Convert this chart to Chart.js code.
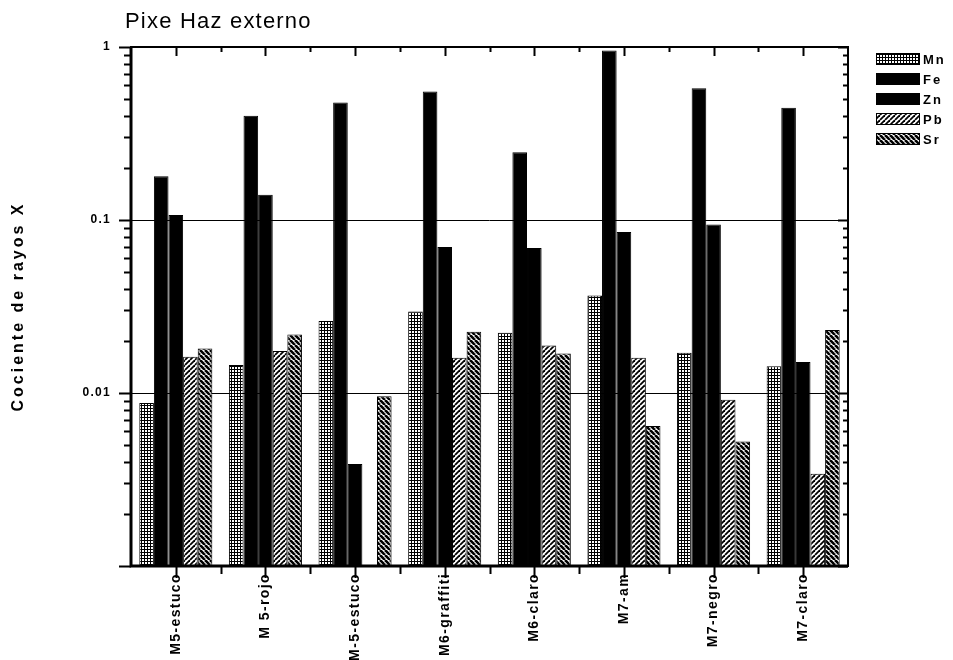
<!DOCTYPE html>
<html>
<head>
<meta charset="utf-8">
<script src="https://cdn.jsdelivr.net/npm/chart.js@4.4.1/dist/chart.umd.min.js"></script>
<style>
  html, body { margin: 0; padding: 0; background: #fff; }
  #wrap { width: 953px; height: 660px; position: relative; }
</style>
</head>
<body>
<div id="wrap"><canvas id="chart" width="953" height="660"></canvas></div>
<script>
// --- Data ---
const categories = ['M5-estuco', 'M 5-rojo', 'M-5-estuco', 'M6-graffiti', 'M6-claro', 'M7-am', 'M7-negro', 'M7-claro'];
const seriesNames = ['Mn', 'Fe', 'Zn', 'Pb', 'Sr'];
const mnValues = [0.00875, 0.0145, 0.0261, 0.0296, 0.0223, 0.0366, 0.0171, 0.0143];
const feValues = [0.179, 0.40, 0.477, 0.553, 0.246, 0.953, 0.578, 0.446];
const znValues = [0.107, 0.140, 0.00389, 0.0697, 0.0690, 0.0853, 0.0943, 0.0151];
const pbValues = [0.0162, 0.0175, null, 0.0160, 0.0188, 0.0160, 0.00914, 0.00341];
const srValues = [0.0181, 0.0218, 0.00957, 0.0226, 0.0169, 0.00644, 0.00525, 0.0231];
const yLabelTicks = [1, 0.1, 0.01];

const FONT = '"Liberation Sans", Arial, sans-serif';

// --- Fill patterns ---
function makePattern(kind) {
    const c = document.createElement('canvas');
    const s = kind === 'grid' ? 3 : 5;
    c.width = s; c.height = s;
    const g = c.getContext('2d');
    g.fillStyle = '#fff';
    g.fillRect(0, 0, s, s);
    g.fillStyle = '#000';
    g.strokeStyle = '#000';
    if (kind === 'grid') {
        g.fillRect(0, 0, s, 1);
        g.fillRect(0, 0, 1, s);
    } else {
        g.lineWidth = kind === 'fwd' ? 1.8 : 2.6;
        for (let k = -1; k <= 1; k++) {
            g.beginPath();
            if (kind === 'fwd') {
                g.moveTo(k * s, s); g.lineTo(k * s + s, 0);
            } else {
                g.moveTo(k * s, 0); g.lineTo(k * s + s, s);
            }
            g.stroke();
        }
    }
    return g.createPattern(c, 'repeat');
}

const fills = [makePattern('grid'), '#000', '#000', makePattern('fwd'), makePattern('back')];
const allValues = [mnValues, feValues, znValues, pbValues, srValues];

const datasets = seriesNames.map((name, i) => ({
    label: name,
    data: allValues[i],
    backgroundColor: fills[i],
    borderColor: '#000',
    borderWidth: 1,
    categoryPercentage: 0.815,
    barPercentage: 1.0
}));

// --- Frame, tick marks, title, legend ---
const decorPlugin = {
    id: 'decor',
    afterLayout(chart) {
        const x = chart.scales.x, y = chart.scales.y;
        const xl = x.drawLabels;
        x.drawLabels = function (area) {
            const ctx = this.ctx; ctx.save(); ctx.letterSpacing = '1.4px';
            xl.call(this, area); ctx.restore();
        };
        const yl = y.drawLabels;
        y.drawLabels = function (area) {
            const ctx = this.ctx; ctx.save(); ctx.letterSpacing = '1.3px';
            yl.call(this, area); ctx.restore();
        };
        const yt = y.drawTitle;
        y.drawTitle = function (area) {
            const ctx = this.ctx; ctx.save(); ctx.letterSpacing = '3px';
            yt.call(this, area); ctx.restore();
        };
    },
    afterDatasetsDraw(chart) {
        const ctx = chart.ctx;
        const a = chart.chartArea;
        const x = chart.scales.x, y = chart.scales.y;
        ctx.save();
        ctx.strokeStyle = '#000';
        ctx.fillStyle = '#000';

        // y ticks (left outward, right inward)
        y.ticks.forEach(t => {
            const py = Math.round(y.getPixelForValue(t.value)) + 0.5;
            const lg = Math.abs(Math.log10(t.value) - Math.round(Math.log10(t.value))) < 1e-6;
            ctx.lineWidth = 2;
            ctx.beginPath();
            ctx.moveTo(a.left - (lg ? 12 : 7), py); ctx.lineTo(a.left, py);
            ctx.moveTo(a.right, py); ctx.lineTo(a.right - (lg ? 10 : 5), py);
            ctx.stroke();
        });

        // x ticks at centres and boundaries
        const n = categories.length;
        for (let i = 0; i < n; i++) {
            const px = Math.round(x.getPixelForValue(i)) + 0.5;
            ctx.lineWidth = 2;
            ctx.beginPath();
            ctx.moveTo(px, a.bottom); ctx.lineTo(px, a.bottom + 12);
            ctx.moveTo(px, a.top); ctx.lineTo(px, a.top + 9);
            ctx.stroke();
            if (i < n - 1) {
                const bx = Math.round((x.getPixelForValue(i) + x.getPixelForValue(i + 1)) / 2) + 0.5;
                ctx.beginPath();
                ctx.moveTo(bx, a.bottom); ctx.lineTo(bx, a.bottom + 8);
                ctx.moveTo(bx, a.top); ctx.lineTo(bx, a.top + 5);
                ctx.stroke();
            }
        }

        // frame
        ctx.lineWidth = 2;
        ctx.strokeRect(a.left, a.top, a.right - a.left, a.bottom - a.top);
        ctx.lineWidth = 3;
        ctx.beginPath();
        ctx.moveTo(a.left, a.top); ctx.lineTo(a.left, a.bottom); ctx.lineTo(a.right, a.bottom);
        ctx.stroke();

        // title
        ctx.font = '22px ' + FONT;
        ctx.letterSpacing = '1.2px';
        ctx.textAlign = 'left';
        ctx.textBaseline = 'alphabetic';
        ctx.fillText('Pixe Haz externo', 125, 28);

        // legend
        ctx.font = 'bold 13px ' + FONT;
        ctx.letterSpacing = '2px';
        ctx.textBaseline = 'middle';
        chart.data.datasets.forEach((ds, i) => {
            const top = 53 + i * 20;
            ctx.fillStyle = ds.backgroundColor;
            ctx.fillRect(876, top, 44, 12);
            ctx.lineWidth = 1;
            ctx.strokeRect(876.5, top + 0.5, 43, 11);
            ctx.fillStyle = '#000';
            ctx.fillText(ds.label, 923, top + 7);
        });
        ctx.restore();
    }
};

new Chart(document.getElementById('chart'), {
    type: 'bar',
    data: { labels: categories, datasets: datasets },
    plugins: [decorPlugin],
    options: {
        responsive: false,
        animation: false,
        layout: { padding: { left: 0, top: 47, right: 105, bottom: 0 } },
        plugins: { legend: { display: false }, tooltip: { enabled: false }, title: { display: false } },
        scales: {
            x: {
                type: 'category',
                grid: { display: false, drawTicks: false },
                border: { display: false },
                ticks: {
                    color: '#000',
                    font: { family: FONT, size: 14, weight: 'bold' },
                    minRotation: 90, maxRotation: 90,
                    padding: 7,
                    autoSkip: false
                },
                afterFit(scale) { scale.height = 94; }
            },
            y: {
                type: 'logarithmic',
                min: 0.001,
                max: 1,
                afterBuildTicks(scale) {
                    const t = [];
                    [0.001, 0.01, 0.1].forEach(d => {
                        for (let m = 1; m <= 9; m++) t.push({ value: +(d * m).toPrecision(3) });
                    });
                    t.push({ value: 1 });
                    scale.ticks = t;
                },
                grid: {
                    drawTicks: false,
                    lineWidth: 1,
                    color: c => (c.tick && (c.tick.value === 0.1 || c.tick.value === 0.01)) ? '#000' : 'rgba(0,0,0,0)'
                },
                border: { display: false },
                ticks: {
                    color: '#000',
                    font: { family: FONT, size: 12, weight: 'bold' },
                    padding: 20,
                    autoSkip: false,
                    callback: v => yLabelTicks.includes(v) ? String(v) : ''
                },
                title: {
                    display: true,
                    text: 'Cociente de rayos X',
                    color: '#000',
                    font: { family: FONT, size: 16, weight: 'bold' },
                    padding: { top: 9, bottom: 0 }
                },
                afterFit(scale) { scale.width = 131; }
            }
        }
    }
});
</script>
</body>
</html>
